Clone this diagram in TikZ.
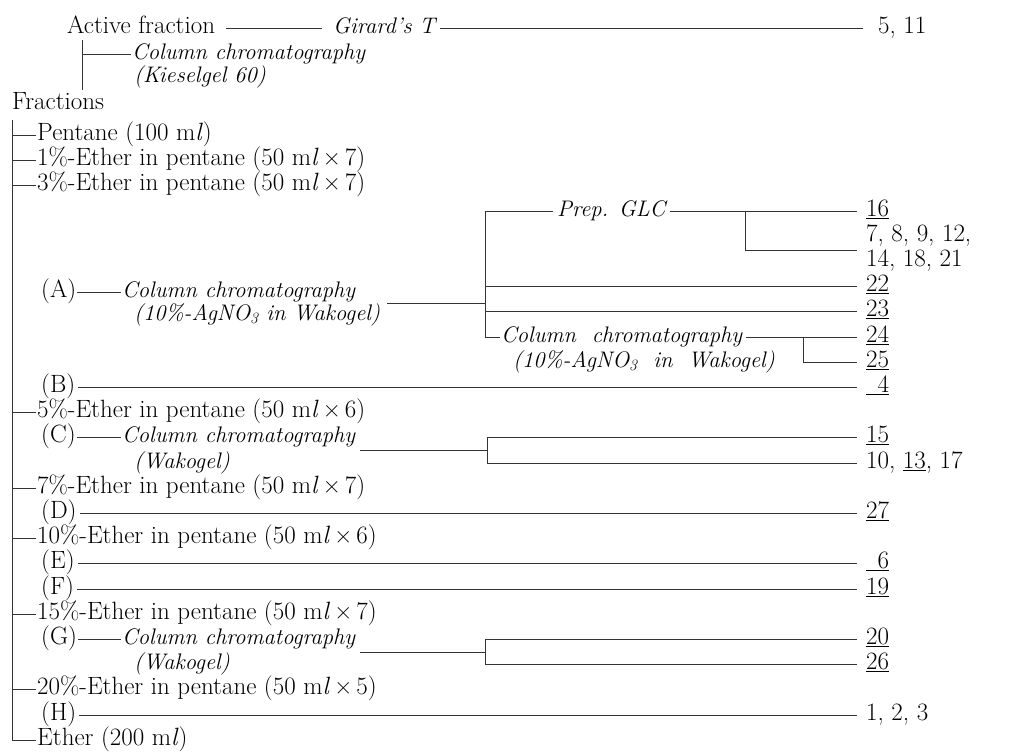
\documentclass[tikz,border=0pt]{standalone}
\usepackage{fontspec}
\usepackage{tikz}
\usetikzlibrary{positioning}

\begin{document}
\begin{tikzpicture}[
  x=1pt, y=-1pt,
  rm/.style={anchor=west, inner xsep=1pt, inner ysep=0pt, text height=17pt, text depth=6pt, font=\fontsize{25}{25}\selectfont},
  it/.style={anchor=west, inner xsep=1pt, inner ysep=0pt, text height=15.5pt, text depth=5.5pt, font=\fontsize{22.5}{22.5}\selectfont\itshape},
  rule/.style={draw=black!80, line width=0.8pt},
  tonum/.style={rule, shorten >=8pt}
]
\useasboundingbox (0,0) rectangle (1012,755);

% header
\node[rm] (act) at (66,28) {Active fraction};
\node[it] (gir) at (332,28) {Girard's T};
\node[rm] (n511) at (877,28) {5, 11};
\draw[rule, shorten <=10pt, shorten >=10pt] (act) -- (gir);
\draw[rule, shorten <=4pt, shorten >=14pt] (gir) -- (n511);
\coordinate (h0) at (82,40);
\coordinate (h1) at (82,54);
\coordinate (h2) at (82,90);
\node[it] (cc0) at (131,54) {Column chromatography};
\node[it] (kg) at (133,77) {(Kieselgel 60)};
\node[rm] (frac) at (11,104) {Fractions};
\draw[rule] (h0) -- (h2);
\draw[rule] (h1) -- (cc0);

% fractions
\coordinate (v0) at (12,120);
\coordinate (v1) at (12,740);
\draw[rule] (v0) -- (v1);
\node[rm] (pen) at (36,135) {Pentane (100 m\textit{l})};
\node[rm] (f1) at (36,160) {1\%-Ether in pentane (50 m\textit{l}\,×\,7)};
\node[rm] (f3) at (36,185) {3\%-Ether in pentane (50 m\textit{l}\,×\,7)};
\node[rm] (f5) at (36,412) {5\%-Ether in pentane (50 m\textit{l}\,×\,6)};
\node[rm] (f7) at (36,488) {7\%-Ether in pentane (50 m\textit{l}\,×\,7)};
\node[rm] (f10) at (36,538) {10\%-Ether in pentane (50 m\textit{l}\,×\,6)};
\node[rm] (f15) at (36,614) {15\%-Ether in pentane (50 m\textit{l}\,×\,7)};
\node[rm] (f20) at (36,689) {20\%-Ether in pentane (50 m\textit{l}\,×\,5)};
\node[rm] (fe) at (36,740) {Ether (200 m\textit{l})};
\foreach \f in {pen,f1,f3,f5,f7,f10,f15,f20,fe}
  \draw[rule] (\f -| v0) -- (\f);

% (A)
\node[rm] (lA) at (40,292) {(A)};
\node[it] (ccA) at (121,292) {Column chromatography};
\node[it] (agA) at (133,315) {(10\%-AgNO\textsubscript{3} in Wakogel)};
\draw[rule] (lA) -- (ccA);
\coordinate (bA0) at (485,211);
\coordinate (bA1) at (485,337);
\coordinate (jA) at (485,303);
\draw[rule] (bA0) -- (bA1);
\draw[rule] (agA.east |- jA) ++(6,0) -- (jA);

\node[it] (glc) at (556,211) {Prep. GLC};
\node[rm] (n16) at (865,211) {\underline{16}};
\draw[rule, shorten >=3pt] (bA0) -- (glc);
\draw[tonum, shorten <=3pt] (glc) -- (n16);
\coordinate (bG0) at (745,211);
\coordinate (bG1) at (745,250);
\draw[rule] (bG0) -- (bG1);
\node[rm] (n7) at (865,236) {7, 8, 9, 12,};
\node[rm] (n14) at (865,261) {14, 18, 21};
\draw[tonum] (bG1) -- (bG1 -| n7.west);

\node[rm] (n22) at (865,286) {\underline{22}};
\node[rm] (n23) at (865,311) {\underline{23}};
\draw[tonum] (bA0 |- n22) -- (n22);
\draw[tonum] (bA0 |- n23) -- (n23);

\node[it] (ccB) at (500,337) {Column\ \ chromatography};
\node[it] (agB) at (512,362) {(10\%-AgNO\textsubscript{3}\ \ in\ \ Wakogel)};
\node[rm] (n24) at (865,337) {\underline{24}};
\node[rm] (n25) at (865,362) {\underline{25}};
\coordinate (bB0) at (803,337);
\coordinate (bB1) at (803,362);
\draw[rule] (bA1) -- (ccB);
\draw[tonum, shorten <=3pt] (ccB) -- (n24);
\draw[rule] (bB0) -- (bB1);
\draw[tonum] (bB1) -- (n25);

% (B)
\node[rm] (lB) at (40,387) {(B)};
\node[rm] (n4) at (865,387) {\underline{\phantom{0}4}};
\draw[tonum, shorten <=2pt] (lB) -- (n4);

% (C)
\node[rm] (lC) at (40,437) {(C)};
\node[it] (ccC) at (121,437) {Column chromatography};
\node[it] (wkC) at (133,463) {(Wakogel)};
\draw[rule] (lC) -- (ccC);
\coordinate (bC0) at (487,437);
\coordinate (bC1) at (487,463);
\coordinate (jC) at (487,450);
\draw[rule] (ccC.east |- jC) ++(4,0) -- (jC);
\draw[rule] (bC0) -- (bC1);
\node[rm] (n15) at (865,437) {\underline{15}};
\node[rm] (n10) at (865,463) {10, \underline{13}, 17};
\draw[tonum] (bC0) -- (n15);
\draw[tonum] (bC1) -- (n10);

% (D) (E) (F)
\node[rm] (lD) at (40,513) {(D)};
\node[rm] (n27) at (865,513) {\underline{27}};
\draw[tonum, shorten <=2pt] (lD) -- (n27);
\node[rm] (lE) at (40,563) {(E)};
\node[rm] (n6) at (865,563) {\underline{\phantom{0}6}};
\draw[tonum, shorten <=2pt] (lE) -- (n6);
\node[rm] (lF) at (40,589) {(F)};
\node[rm] (n19) at (865,589) {\underline{19}};
\draw[tonum, shorten <=2pt] (lF) -- (n19);

% (G)
\node[rm] (lG) at (40,639) {(G)};
\node[it] (ccG) at (121,639) {Column chromatography};
\node[it] (wkG) at (133,664) {(Wakogel)};
\draw[rule] (lG) -- (ccG);
\coordinate (bD0) at (485,639);
\coordinate (bD1) at (485,664);
\coordinate (jG) at (485,652);
\draw[rule] (ccG.east |- jG) ++(4,0) -- (jG);
\draw[rule] (bD0) -- (bD1);
\node[rm] (n20) at (865,639) {\underline{20}};
\node[rm] (n26) at (865,664) {\underline{26}};
\draw[tonum] (bD0) -- (n20);
\draw[tonum] (bD1) -- (n26);

% (H)
\node[rm] (lH) at (40,715) {(H)};
\node[rm] (n123) at (865,715) {1, 2, 3};
\draw[tonum, shorten <=2pt] (lH) -- (n123);

\end{tikzpicture}
\end{document}
